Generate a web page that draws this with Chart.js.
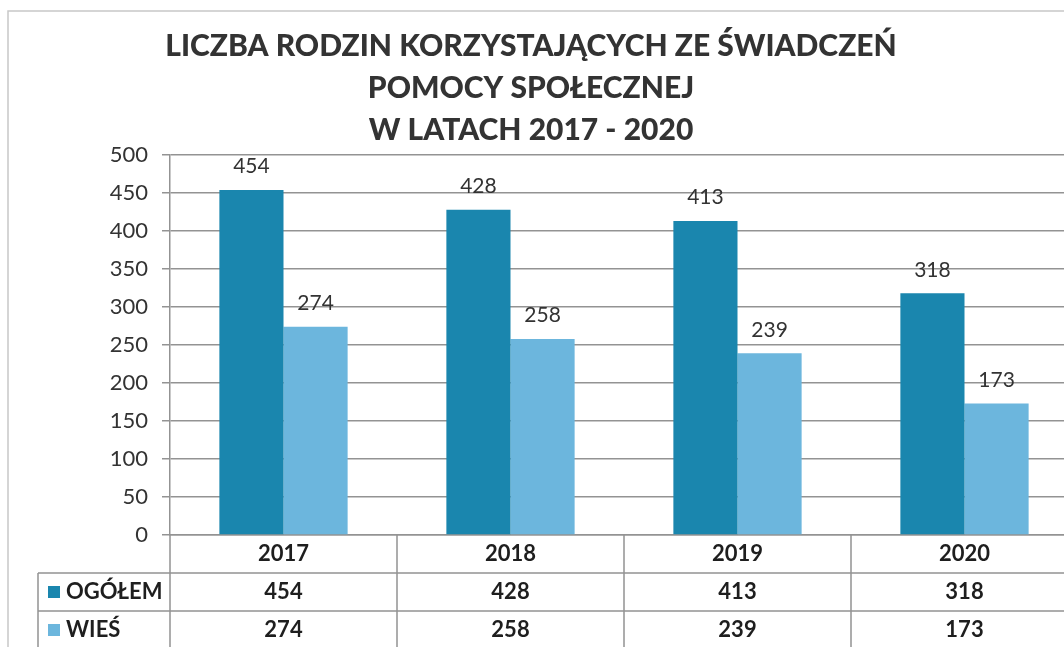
<!DOCTYPE html>
<html>
<head>
<meta charset="utf-8">
<script src="https://cdn.jsdelivr.net/npm/chart.js@4.4.1/dist/chart.umd.min.js"></script>
<style>
  html, body { margin: 0; padding: 0; background: #fff; overflow: hidden; }
  #wrap { position: absolute; left: 0; top: 0; width: 1090px; height: 647px; }
</style>
</head>
<body>
<div id="wrap"><canvas id="chart" width="1090" height="647"></canvas></div>
<script>
var years = ['2017', '2018', '2019', '2020'];
var seriesNames = ['OGÓŁEM', 'WIEŚ'];
var ogolem = [454, 428, 413, 318];
var wies = [274, 258, 239, 173];
var yTicks = [0, 50, 100, 150, 200, 250, 300, 350, 400, 450, 500];
var titleLines = ['LICZBA RODZIN KORZYSTAJĄCYCH ZE ŚWIADCZEŃ', 'POMOCY SPOŁECZNEJ', 'W LATACH 2017 - 2020'];

var darkBlue = '#1a86ae';
var lightBlue = '#6cb6dd';
var gridColor = '#939393';
var textColor = '#333';
var font = 'Lato, "Open Sans", sans-serif';

// title, value labels and the data table under the axis
var extras = {
  id: 'extras',
  afterDraw(chart) {
    let ctx = chart.ctx;
    let area = chart.chartArea;
    let x = chart.scales.x;
    ctx.save();

    // scan frame
    ctx.strokeStyle = '#c8c8c8';
    ctx.lineWidth = 1.5;
    ctx.beginPath();
    ctx.moveTo(8, 647);
    ctx.lineTo(8, 11);
    ctx.lineTo(1090, 11);
    ctx.stroke();

    // title
    ctx.fillStyle = '#333';
    ctx.font = '900 30px ' + font;
    ctx.textAlign = 'center';
    ctx.textBaseline = 'middle';
    titleLines.forEach((t, i) => ctx.fillText(t, 531, 46 + i * 42));

    // value labels above bars
    ctx.font = '21px ' + font;
    ctx.fillStyle = textColor;
    ctx.textBaseline = 'bottom';
    chart.data.datasets.forEach((ds, di) => {
      chart.getDatasetMeta(di).data.forEach((bar, i) => {
        ctx.fillText(ds.data[i], bar.x, bar.y - 13);
      });
    });

    // table
    let rowH = 38;
    let top = area.bottom;
    let tableLeft = 38;
    let step = x.getPixelForValue(1) - x.getPixelForValue(0);
    ctx.strokeStyle = gridColor;
    ctx.lineWidth = 1.5;
    ctx.beginPath();
    for (let r = 1; r <= 2; r++) {
      ctx.moveTo(tableLeft, top + r * rowH);
      ctx.lineTo(chart.width, top + r * rowH);
    }
    ctx.moveTo(tableLeft, top + rowH);
    ctx.lineTo(tableLeft, chart.height);
    for (let i = 0; i <= years.length; i++) {
      let px = area.left + i * step;
      ctx.moveTo(px, top);
      ctx.lineTo(px, chart.height);
    }
    ctx.stroke();

    ctx.textBaseline = 'middle';
    ctx.textAlign = 'center';
    ctx.fillStyle = '#1e1e1e';
    ctx.font = 'bold 22px ' + font;
    years.forEach((y, i) => ctx.fillText(y, x.getPixelForValue(i), top + rowH / 2));

    chart.data.datasets.forEach((ds, di) => {
      let cy = top + rowH * (di + 1) + rowH / 2;
      ctx.fillStyle = ds.backgroundColor;
      ctx.fillRect(48, cy - 6, 12, 12);
      ctx.fillStyle = '#1e1e1e';
      ctx.textAlign = 'left';
      ctx.fillText(ds.label, 66, cy);
      ctx.textAlign = 'center';
      ds.data.forEach((v, i) => ctx.fillText(v, x.getPixelForValue(i), cy));
    });

    ctx.restore();
  }
};

new Chart(document.getElementById('chart'), {
  type: 'bar',
  data: {
    labels: years,
    datasets: [
      { label: seriesNames[0], data: ogolem, backgroundColor: darkBlue },
      { label: seriesNames[1], data: wies, backgroundColor: lightBlue }
    ]
  },
  options: {
    responsive: false,
    animation: false,
    layout: { padding: { top: 155, right: 12, left: 0, bottom: 0 } },
    datasets: {
      bar: { barPercentage: 1, categoryPercentage: 0.565 }
    },
    plugins: {
      legend: { display: false },
      title: { display: false },
      tooltip: { enabled: false }
    },
    scales: {
      x: {
        ticks: { display: false },
        grid: { display: false },
        border: { display: true, color: gridColor, width: 1.5 },
        afterFit(scale) { scale.height = 112; }
      },
      y: {
        min: yTicks[0],
        max: yTicks[yTicks.length - 1],
        afterBuildTicks(scale) { scale.ticks = yTicks.map(v => ({ value: v })); },
        ticks: { color: textColor, font: { family: font, size: 22 }, padding: 14 },
        grid: { color: gridColor, lineWidth: 1.5, tickLength: 8 },
        border: { display: true, color: gridColor, width: 1.5 },
        afterFit(scale) { scale.width = 170; }
      }
    }
  },
  plugins: [extras]
});
</script>
</body>
</html>
